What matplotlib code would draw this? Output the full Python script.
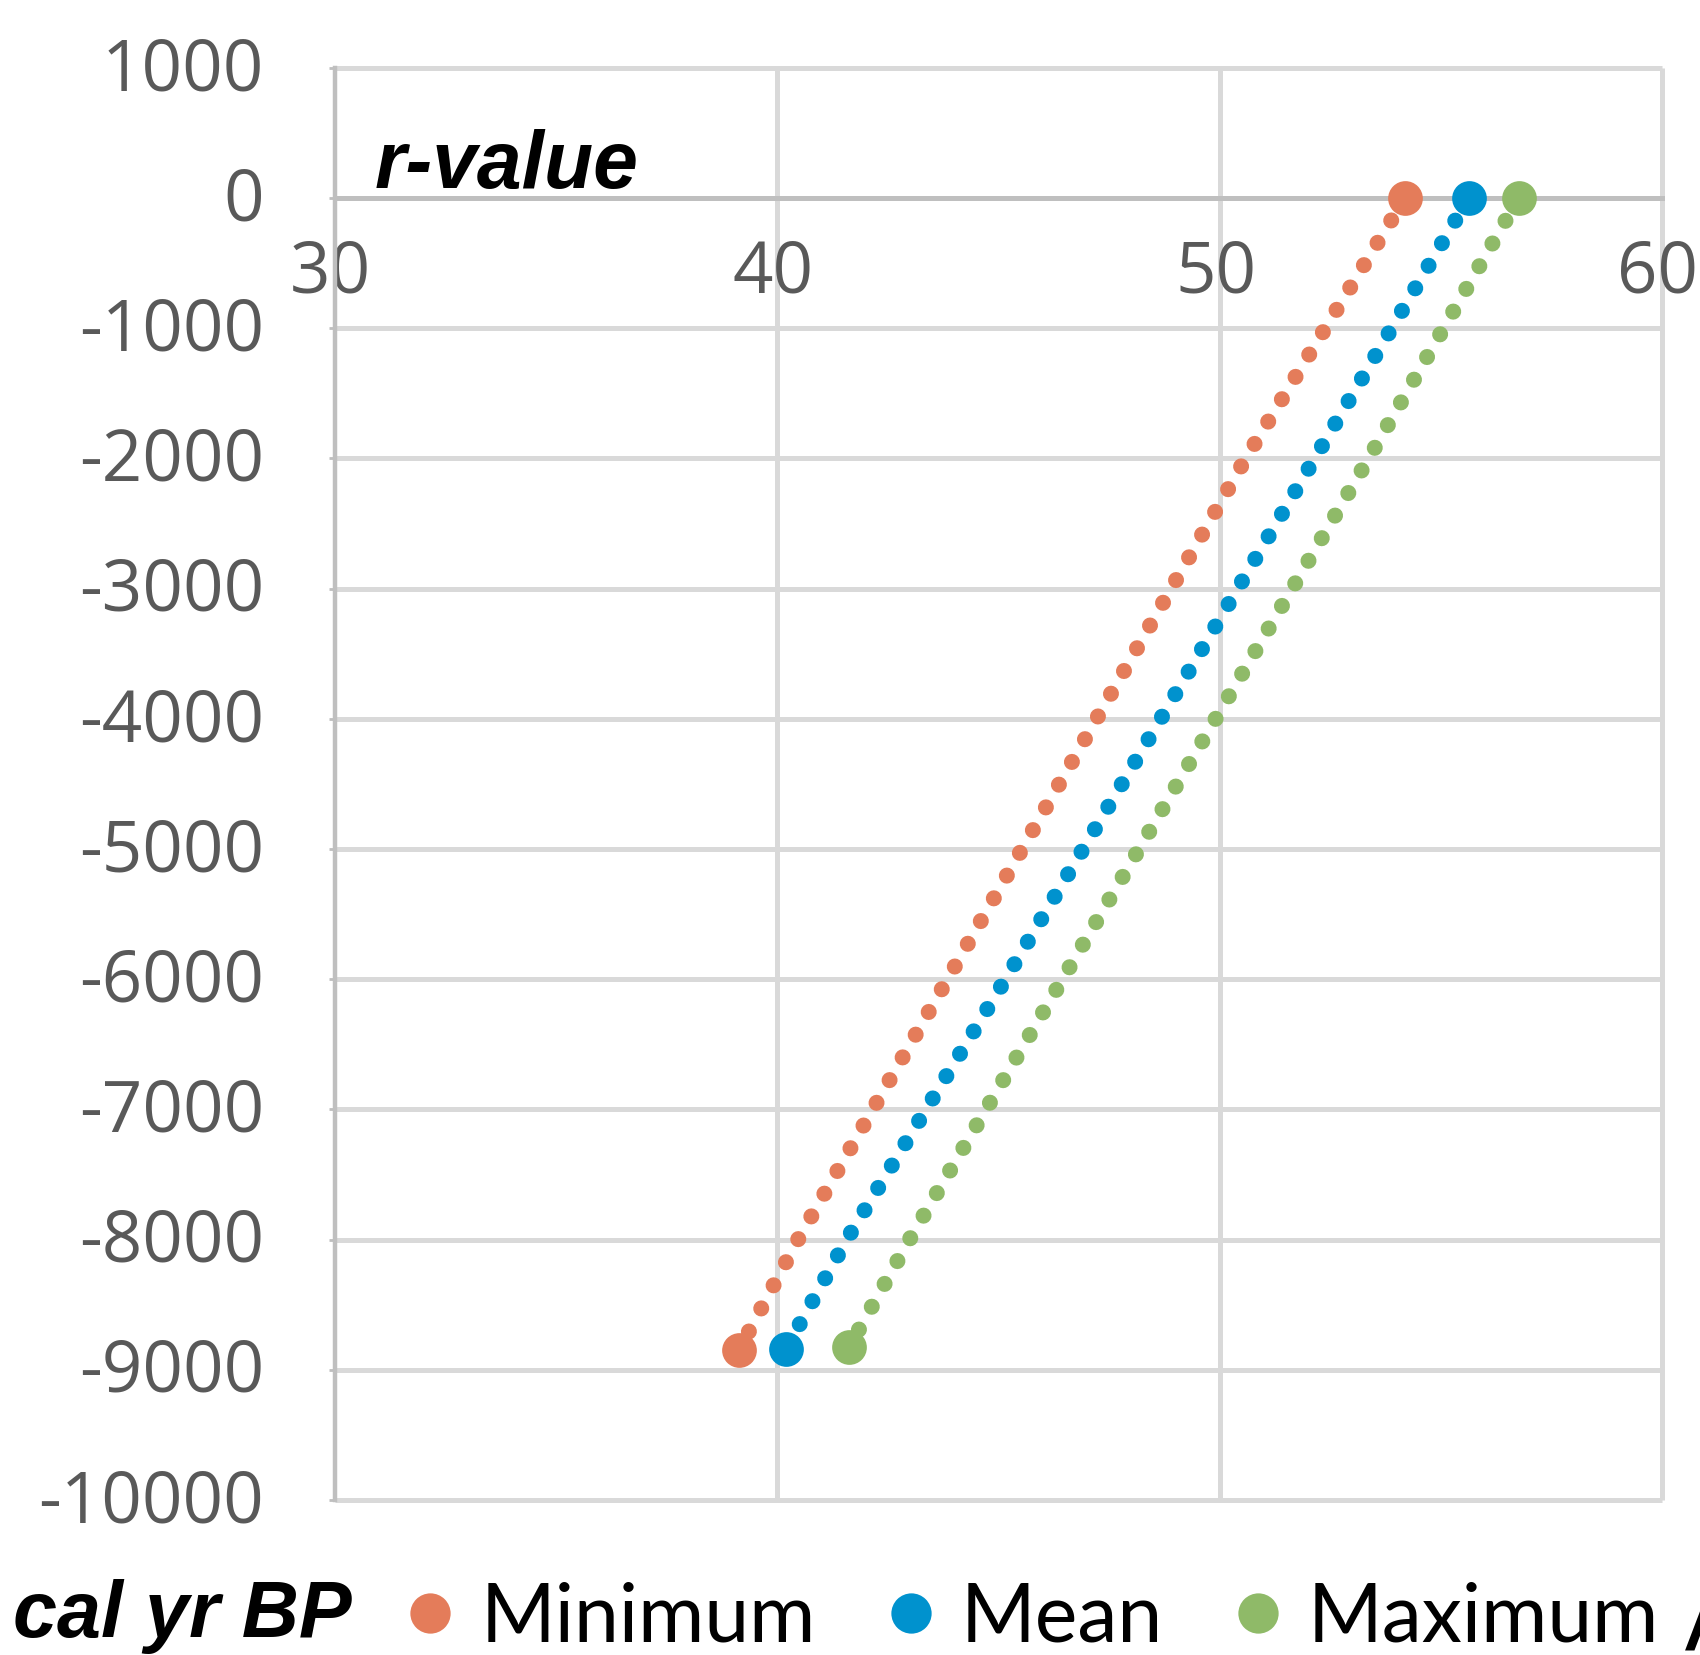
import matplotlib.pyplot as plt
from matplotlib.lines import Line2D
from matplotlib.transforms import ScaledTranslation

plt.rcParams['axes.unicode_minus'] = False

# r-value against age (cal yr BP)
age_min = [0, -2000, -4000, -6000, -8000, -8846]
r_min = [54.19, 50.59, 47.22, 43.85, 40.47, 39.14]
age_mean = [0, -2000, -4000, -6000, -8000, -8838]
r_mean = [55.63, 52.15, 48.67, 45.16, 41.57, 40.20]
age_max = [0, -2000, -4000, -6000, -8000, -8823]
r_max = [56.76, 53.37, 49.91, 46.45, 42.99, 41.63]

series_names = ['Minimum', 'Mean', 'Maximum']
colors = ['#E47C5A', '#0092CE', '#8FBA68']

x_ticks = [30, 40, 50, 60]
y_ticks = list(range(-10000, 1001, 1000))

fig = plt.figure(figsize=(17, 16.55), dpi=100)
ax = fig.add_axes([0.197, 0.0937, 0.7806, 0.8653])
ax.set_xlim(30, 60)
ax.set_ylim(-10000, 1000)

# grid drawn by hand so the border lines are not clipped
ax.hlines(y_ticks, 30, 60, colors='#d9d9d9', linewidth=3.6, clip_on=False, zorder=1)
ax.vlines(x_ticks[1:], -10000, 1000, colors='#d9d9d9', linewidth=3.6, clip_on=False, zorder=1)

for s in ['top', 'right']:
    ax.spines[s].set_visible(False)
ax.spines['left'].set_color('#bfbfbf')
ax.spines['left'].set_linewidth(3.2)
ax.spines['bottom'].set_position(('data', 0))
ax.spines['bottom'].set_color('#bfbfbf')
ax.spines['bottom'].set_linewidth(3.6)
ax.spines['bottom'].set_zorder(2)

ax.set_xticks(x_ticks)
ax.set_yticks(y_ticks)
ax.tick_params(axis='x', length=0, pad=29, labelsize=51, labelcolor='#595959')
ax.tick_params(axis='y', length=4, width=2, color='#bfbfbf', pad=47, labelsize=51, labelcolor='#595959')
for lab in ax.get_xticklabels():
    lab.set_family('Open Sans')
    lab.set_transform(lab.get_transform() + ScaledTranslation(-0.04, 0, fig.dpi_scale_trans))
for lab in ax.get_yticklabels():
    lab.set_family('Open Sans')
    lab.set_transform(lab.get_transform() + ScaledTranslation(0, 0.05, fig.dpi_scale_trans))

for xs, ys, c in [(r_min, age_min, colors[0]), (r_mean, age_mean, colors[1]), (r_max, age_max, colors[2])]:
    ax.plot(xs, ys, color=c, linewidth=11.5, linestyle=(0, (0.01, 1.63)),
            dash_capstyle='round', zorder=3, clip_on=False)
    ax.plot([xs[0], xs[-1]], [ys[0], ys[-1]], linestyle='none', marker='o',
            markersize=25, color=c, markeredgewidth=0, zorder=4, clip_on=False)

ax.text(30.9, 80, 'r-value', fontsize=58, fontweight='bold', fontstyle='italic',
        family='Liberation Sans', va='baseline', ha='left')

fig.text(13 / 1700, 0.011, 'cal yr BP', fontsize=57, fontweight='bold', fontstyle='italic',
         family='Liberation Sans', va='baseline', ha='left')
fig.text(0.993, 0.004, '/', fontsize=57, fontweight='bold', fontstyle='italic',
         family='Liberation Sans', va='baseline', ha='left')

handles = [Line2D([], [], linestyle='none', marker='o', markersize=29, color=c,
                  markeredgewidth=0) for c in colors]
leg = fig.legend(handles, series_names, loc='center left', bbox_to_anchor=(0.239, 0.022),
                 ncol=3, frameon=False, borderpad=0, borderaxespad=0,
                 handlelength=0.6, handletextpad=0.32, columnspacing=0.88,
                 prop={'family': 'Lato', 'size': 58})

fig.savefig('out.png', dpi=100)
